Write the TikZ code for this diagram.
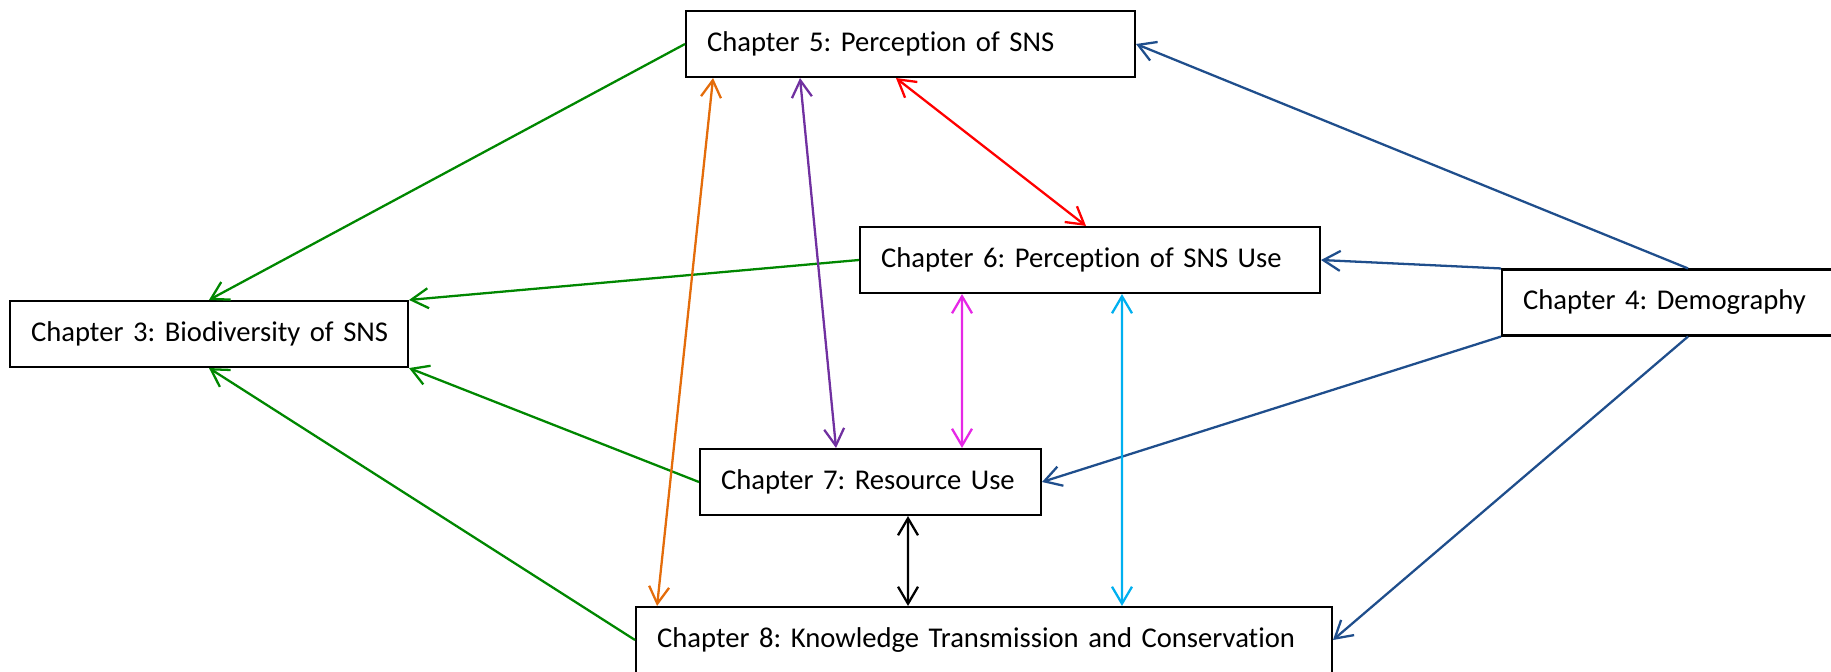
\documentclass[tikz,border=0pt]{standalone}
\usepackage{fontspec}
\setmainfont[Ligatures=NoCommon]{Carlito}
\usetikzlibrary{arrows.meta}
\frenchspacing

\definecolor{grn}{RGB}{0,135,0}
\definecolor{blu}{RGB}{31,78,140}
\definecolor{org}{RGB}{228,108,10}
\definecolor{prp}{RGB}{112,48,160}
\definecolor{mag}{RGB}{230,40,230}
\definecolor{cyn}{RGB}{0,176,240}

\begin{document}
\begin{tikzpicture}[x=0.02cm, y=-0.02cm,
    chap/.style={draw, line width=1.2pt, text width=#1, inner xsep=0.42cm, align=left,
        minimum height=1.32cm, font=\fontsize{16.3}{19}\selectfont},
    link/.style={line width=1.3pt},
    >={Straight Barb[length=0.34cm, width=0.4cm]}]
        \useasboundingbox (0,0) rectangle (1831,672);

        % chapters
        \node[chap=8.14cm] (ch5) at (910.5,44) {\mbox{Chapter 5: Perception of SNS}};
        \node[chap=8.36cm] (ch6) at (1090,260) {\mbox{Chapter 6: Perception of SNS Use}};
        \node[chap=6.6cm] (ch4) at (1688,302.5) {\mbox{Chapter 4: Demography}};
        \node[chap=7.12cm] (ch3) at (209,334) {\mbox{Chapter 3: Biodiversity of SNS}};
        \node[chap=5.98cm] (ch7) at (870.5,482) {\mbox{Chapter 7: Resource Use}};
        \node[chap=13.08cm] (ch8) at (984,640) {\mbox{Chapter 8: Knowledge Transmission and Conservation}};

        % into biodiversity
        \draw[link, grn, ->] (ch5.west) -- (ch3.north);
        \draw[link, grn, ->] (ch6.west) -- (ch3.north east);
        \draw[link, grn, ->] (ch7.west) -- (ch3.south east);
        \draw[link, grn, ->] (ch8.west) -- (ch3.south);

        % out of demography
        \draw[link, blu, ->] (ch4.north) -- (ch5.east);
        \draw[link, blu, ->] (ch4.north west) -- (ch6.east);
        \draw[link, blu, ->] (ch4.south west) -- (ch7.east);
        \draw[link, blu, ->] (ch4.south) -- (ch8.east);

        % two-way links
        \draw[link, org, <->] ([xshift=-3.95cm]ch5.south) -- ([xshift=-6.54cm]ch8.north);
        \draw[link, prp, <->] ([xshift=-2.21cm]ch5.south) -- ([xshift=-0.69cm]ch7.north);
        \draw[link, red, <->] ([xshift=-0.29cm]ch5.south) -- ([xshift=-0.08cm]ch6.north);
        \draw[link, mag, <->] ([xshift=-2.56cm]ch6.south) -- ([xshift=1.83cm]ch7.north);
        \draw[link, cyn, <->] ([xshift=0.64cm]ch6.south) -- ([xshift=2.76cm]ch8.north);
        \draw[link, black, <->] ([xshift=0.75cm]ch7.south) -- ([xshift=-1.52cm]ch8.north);

    \end{tikzpicture}
\end{document}
